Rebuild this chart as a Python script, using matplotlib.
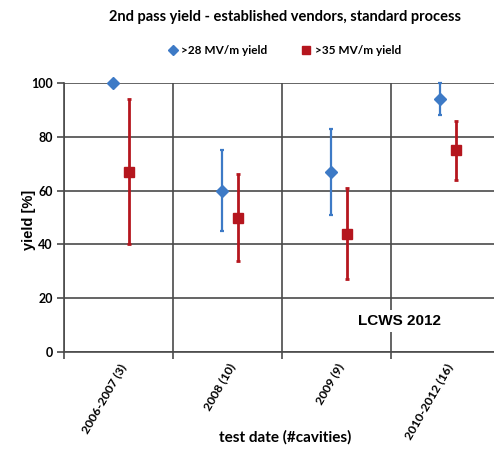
import matplotlib
matplotlib.use("Agg")
import matplotlib.pyplot as plt
from matplotlib.lines import Line2D
import numpy as np

categories = ["2006-2007 (3)", "2008 (10)", "2009 (9)", "2010-2012 (16)"]
y28 = [100, 60, 67, 94]
y28_lo = [100, 45, 51, 88]
y28_hi = [100, 75, 83, 100]
y35 = [67, 50, 44, 75]
y35_lo = [40, 34, 27, 64]
y35_hi = [94, 66, 61, 86]
yticks = [0, 20, 40, 60, 80, 100]

blue = "#3d7ac6"
red = "#b5161e"
grid_c = "#4a4a4a"
FONT = ["Lato", "DejaVu Sans"]

fig = plt.figure(figsize=(4.94, 4.49), dpi=100)
W, H = 494, 449
x0, x1, ytop, ybot = 64, 500, 83, 352
ax = fig.add_axes([x0 / W, (H - ybot) / H, (x1 - x0) / W, (ybot - ytop) / H])

x = np.arange(len(categories))
xb = x - 0.05
xr = x + 0.10

e28 = [np.array(y28) - np.array(y28_lo), np.array(y28_hi) - np.array(y28)]
e35 = [np.array(y35) - np.array(y35_lo), np.array(y35_hi) - np.array(y35)]

ax.errorbar(xb, y28, yerr=e28, fmt="D", color=blue, ms=6, elinewidth=1.6,
            capsize=1.5, capthick=1.6, zorder=5, clip_on=False)
ax.errorbar(xr, y35, yerr=e35, fmt="s", color=red, ms=7, elinewidth=2.0,
            capsize=1.5, capthick=2.0, zorder=5, clip_on=False)

ax.set_xlim(-0.5, len(categories) - 0.5)
ax.set_ylim(0, 100)
ax.set_yticks(yticks)
ax.set_yticklabels([str(v) for v in yticks], fontfamily=FONT, fontweight="bold", fontsize=9)
ax.set_xticks(x)
ax.set_xticklabels(categories, rotation=60, ha="right", rotation_mode="anchor",
                   fontfamily=FONT, fontweight="bold", fontsize=8.8)
ax.set_xticks(np.arange(len(categories) + 1) - 0.5, minor=True)
ax.tick_params(axis="x", which="major", length=0, pad=7)
ax.tick_params(axis="x", which="minor", length=5, color=grid_c, width=1.2, direction="out")
ax.tick_params(axis="y", length=5, color=grid_c, width=1.2, direction="out", pad=3)

ax.grid(True, axis="y", which="major", color=grid_c, lw=1.2, zorder=1)
ax.grid(True, axis="x", which="minor", color=grid_c, lw=1.2, zorder=1)
ax.set_axisbelow(True)
for s in ["top", "right"]:
    ax.spines[s].set_visible(False)
for s in ["left", "bottom"]:
    ax.spines[s].set_color(grid_c)
    ax.spines[s].set_linewidth(1.2)

ax.set_ylabel("yield [%]", fontfamily=["Liberation Sans", "DejaVu Sans"], fontweight="bold", fontsize=10.5)
ax.yaxis.set_label_coords((36 - x0) / (x1 - x0), 0.49)
ax.set_xlabel("test date (#cavities)", fontfamily=FONT, fontweight="bold", fontsize=11)
ax.xaxis.set_label_coords((285 - x0) / (x1 - x0), -(437 - ybot) / (ybot - ytop))
ax.xaxis.label.set_va("center")

ax.text(2.58, 11.5, "LCWS 2012", fontfamily=["Liberation Sans", "DejaVu Sans"], fontweight="bold",
        fontsize=11, ha="center", va="center", zorder=4,
        bbox=dict(facecolor="white", edgecolor="none", pad=3))

fig.text(285 / W, 1 - 17 / H, "2nd pass yield - established vendors, standard process",
         fontfamily=FONT, fontweight="bold", fontsize=10.5, ha="center", va="center")

handles = [Line2D([], [], marker="D", color=blue, ls="none", ms=5),
           Line2D([], [], marker="s", color=red, ls="none", ms=6)]
fig.legend(handles, [">28 MV/m yield", ">35 MV/m yield"], loc="center",
           bbox_to_anchor=(285 / W, 1 - 51 / H), ncol=2, frameon=False,
           prop=dict(family=FONT, weight="bold", size=8.5), handlelength=0.6,
           handletextpad=0.4, columnspacing=3.0)

fig.savefig("out.png", dpi=100)
